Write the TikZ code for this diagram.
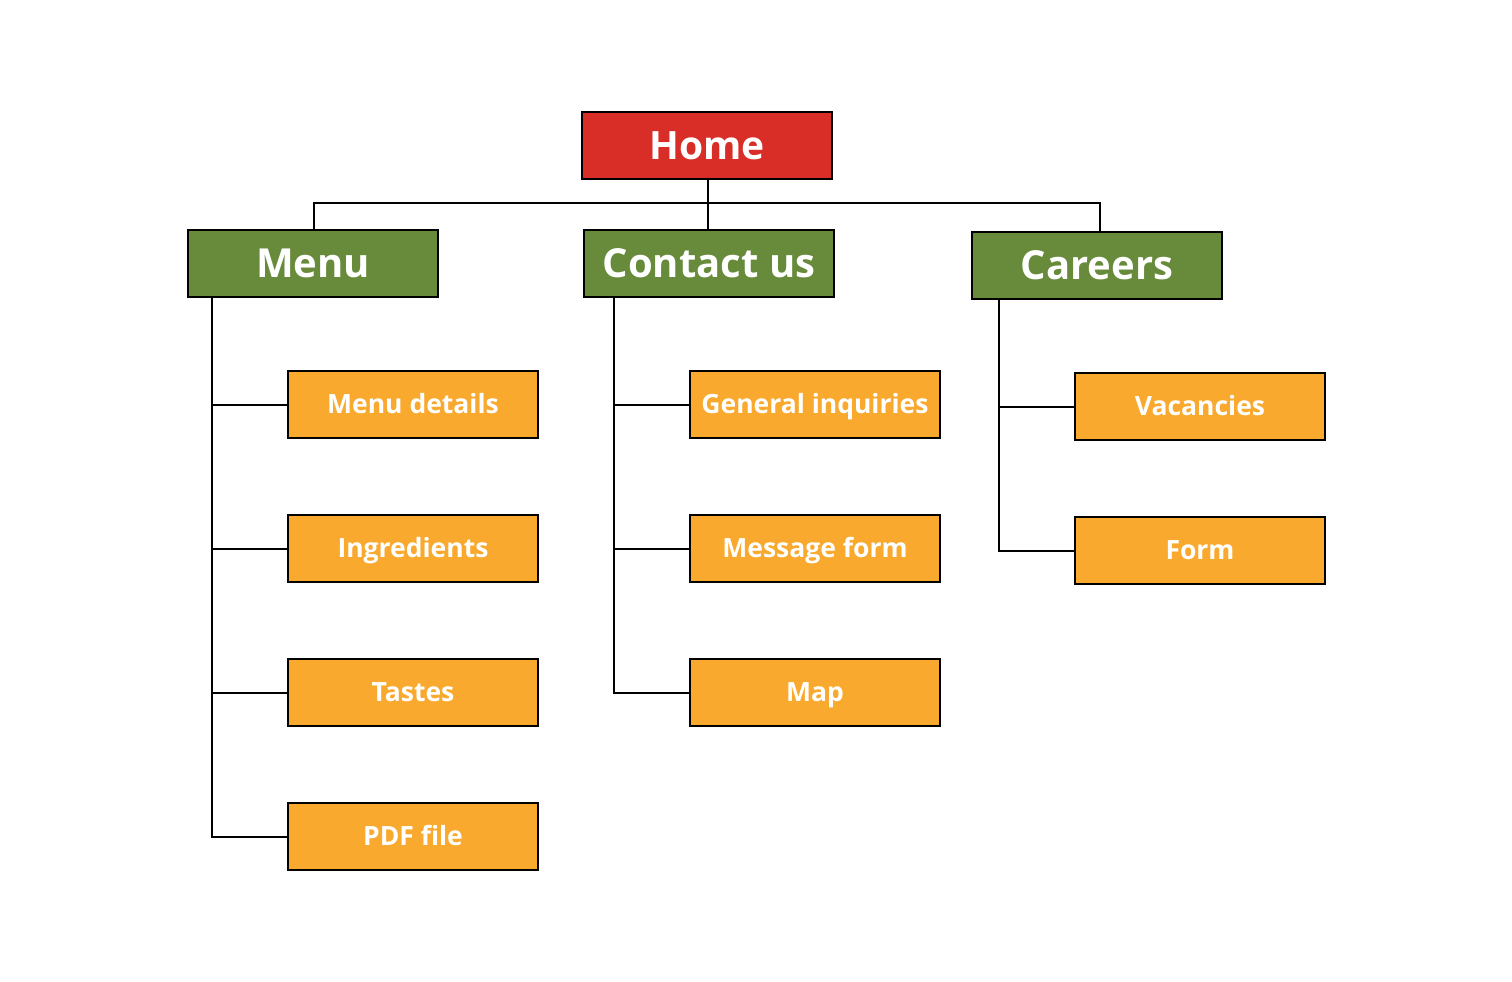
\documentclass[tikz,border=0pt]{standalone}
\usepackage{fontspec}
\setmainfont{Open Sans}
\definecolor{homered}{HTML}{D92D27}
\definecolor{secgreen}{HTML}{678B3B}
\definecolor{pageorange}{HTML}{F9A92D}
\begin{document}
\begin{tikzpicture}[x=1pt,y=-1pt,
  box/.style={draw=black,line width=2pt,minimum width=250pt,minimum height=67pt,inner sep=0pt,text=white,text depth=0pt},
  homebox/.style={box,fill=homered,font=\bfseries\fontsize{39}{46}\selectfont,text height=27.9pt},
  secbox/.style={box,fill=secgreen,font=\bfseries\fontsize{40}{46}\selectfont,text height=28.6pt},
  pagebox/.style={box,fill=pageorange,font=\bfseries\fontsize{26.5}{32}\selectfont,text height=18.9pt},
  link/.style={draw=black,line width=2pt}]
\useasboundingbox (0,0) rectangle (1512,982);
\node[homebox] (home) at (707,145.5) {Home};
\node[secbox] (menu) at (313,263.5) {Menu};
\node[secbox] (contact) at (709,263.5) {Contact us};
\node[secbox] (careers) at (1097,265.5) {Careers};
\node[pagebox] (md) at (413,404.5) {Menu details};
\node[pagebox] (ing) at (413,548.5) {Ingredients};
\node[pagebox] (tas) at (413,692.5) {Tastes};
\node[pagebox] (pdf) at (413,836.5) {PDF file};
\node[pagebox] (gi) at (815,404.5) {General inquiries};
\node[pagebox] (mf) at (815,548.5) {Message form};
\node[pagebox] (map) at (815,692.5) {Map};
\node[pagebox] (vac) at (1200,406.5) {Vacancies};
\node[pagebox] (form) at (1200,550.5) {Form};
\coordinate (hb) at (708,203);
\draw[link] (home.south -| hb) -- (hb);
\draw[link] (menu.north -| 314,0) |- (hb) -| (careers.north -| 1100,0);
\draw[link] (hb) -- (contact.north -| hb);
\draw[link] (menu.south -| 212,0) |- (md.west);
\draw[link] (menu.south -| 212,0) |- (ing.west);
\draw[link] (menu.south -| 212,0) |- (tas.west);
\draw[link] (menu.south -| 212,0) |- (pdf.west);
\draw[link] (contact.south -| 614,0) |- (gi.west);
\draw[link] (contact.south -| 614,0) |- (mf.west);
\draw[link] (contact.south -| 614,0) |- (map.west);
\draw[link] (careers.south -| 999,0) |- (vac.west);
\draw[link] (careers.south -| 999,0) |- (form.west);
\end{tikzpicture}
\end{document}
